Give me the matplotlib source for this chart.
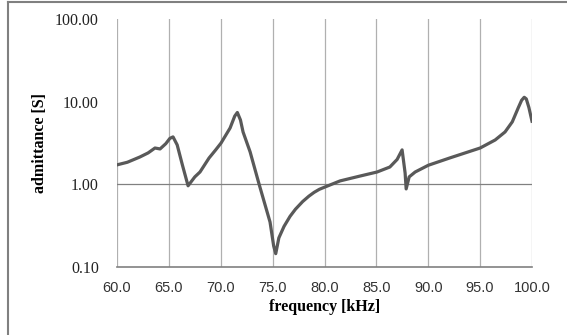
import matplotlib
matplotlib.use('Agg')
import matplotlib.pyplot as plt
from matplotlib.ticker import FixedLocator, FuncFormatter

# values
freq_khz = [60.0, 61.0, 62.2, 63.0, 63.66, 64.15, 64.7, 65.1, 65.4, 65.8, 66.3,
            66.85, 67.5, 68.0, 68.87, 69.5, 70.03, 70.9, 71.35, 71.6, 71.9, 72.15, 72.83,
            73.7, 74.75, 75.1, 75.3, 75.6, 76.1, 76.68, 77.2, 77.9, 78.5, 79.0, 79.5,
            80.06, 81.5, 83.43, 85.07, 86.3, 87.0, 87.48, 87.77, 87.87, 88.16, 88.74,
            90.0, 92.1, 95.0, 96.45, 97.4, 98.1, 98.67, 99.0, 99.25, 99.45, 99.7, 100.0]
admittance = [1.72, 1.85, 2.14, 2.4, 2.75, 2.68, 3.1, 3.6, 3.75, 3.0, 1.72,
              0.96, 1.23, 1.41, 2.08, 2.6, 3.16, 4.8, 6.7, 7.4, 6.0, 4.3, 2.47,
              1.0, 0.35, 0.18, 0.145, 0.225, 0.31, 0.41, 0.5, 0.62, 0.72, 0.80, 0.87,
              0.93, 1.10, 1.26, 1.41, 1.62, 2.0, 2.61, 1.37, 0.88, 1.23, 1.41,
              1.70, 2.09, 2.75, 3.44, 4.3, 5.7, 8.4, 10.4, 11.3, 10.8, 8.5, 5.8]
x_ticks = [60, 65, 70, 75, 80, 85, 90, 95, 100]
y_ticks = [0.1, 1, 10, 100]

W, H = 567, 335
fig = plt.figure(figsize=(W / 100, H / 100), dpi=100)

# outer chart border (only top and left visible in the crop)
fig.add_artist(plt.Line2D([8 / W, 8 / W], [0, 1 - 2 / H], color='#808080', lw=1.5))
fig.add_artist(plt.Line2D([8 / W, 1], [1 - 2 / H, 1 - 2 / H], color='#808080', lw=1.5))

ax = fig.add_axes([117 / W, 1 - 267 / H, (532 - 117) / W, (267 - 19) / H])
ax.set_yscale('log')
ax.set_xlim(60, 100)
ax.set_ylim(0.1, 100)

for x in x_ticks:
    ax.axvline(x, color='#b0b0b0', lw=0.9, zorder=1)
ax.axhline(1, color='#808080', lw=0.9, zorder=1)
ax.axhline(0.1, color='#808080', lw=1.2, zorder=1, clip_on=False)

ax.plot(freq_khz, admittance, color='#595959', lw=2.3, zorder=3,
        solid_joinstyle='round')

for s in ax.spines.values():
    s.set_visible(False)

ax.xaxis.set_major_locator(FixedLocator(x_ticks))
ax.yaxis.set_major_locator(FixedLocator(y_ticks))
ax.yaxis.set_minor_locator(FixedLocator([]))
ax.xaxis.set_major_formatter(FuncFormatter(lambda v, p: '%.1f' % v))
ax.yaxis.set_major_formatter(FuncFormatter(lambda v, p: '%.2f' % v))
ax.tick_params(axis='both', length=0)
ax.tick_params(axis='y', pad=13)
ax.tick_params(axis='x', pad=10)
for lab in ax.get_yticklabels():
    lab.set_fontfamily('Liberation Serif')
    lab.set_fontsize(11.5)
    lab.set_color('#222222')
for lab in ax.get_xticklabels():
    lab.set_fontfamily('Liberation Sans')
    lab.set_fontsize(10.5)
    lab.set_color('#333333')

ax.set_xlabel('frequency [kHz]', fontfamily='Liberation Serif', fontweight='bold',
              fontsize=11.5, labelpad=3)
ax.set_ylabel('admittance [S]', fontfamily='Liberation Serif', fontweight='bold',
              fontsize=11.5, labelpad=5)

fig.savefig('out.png', dpi=100)
